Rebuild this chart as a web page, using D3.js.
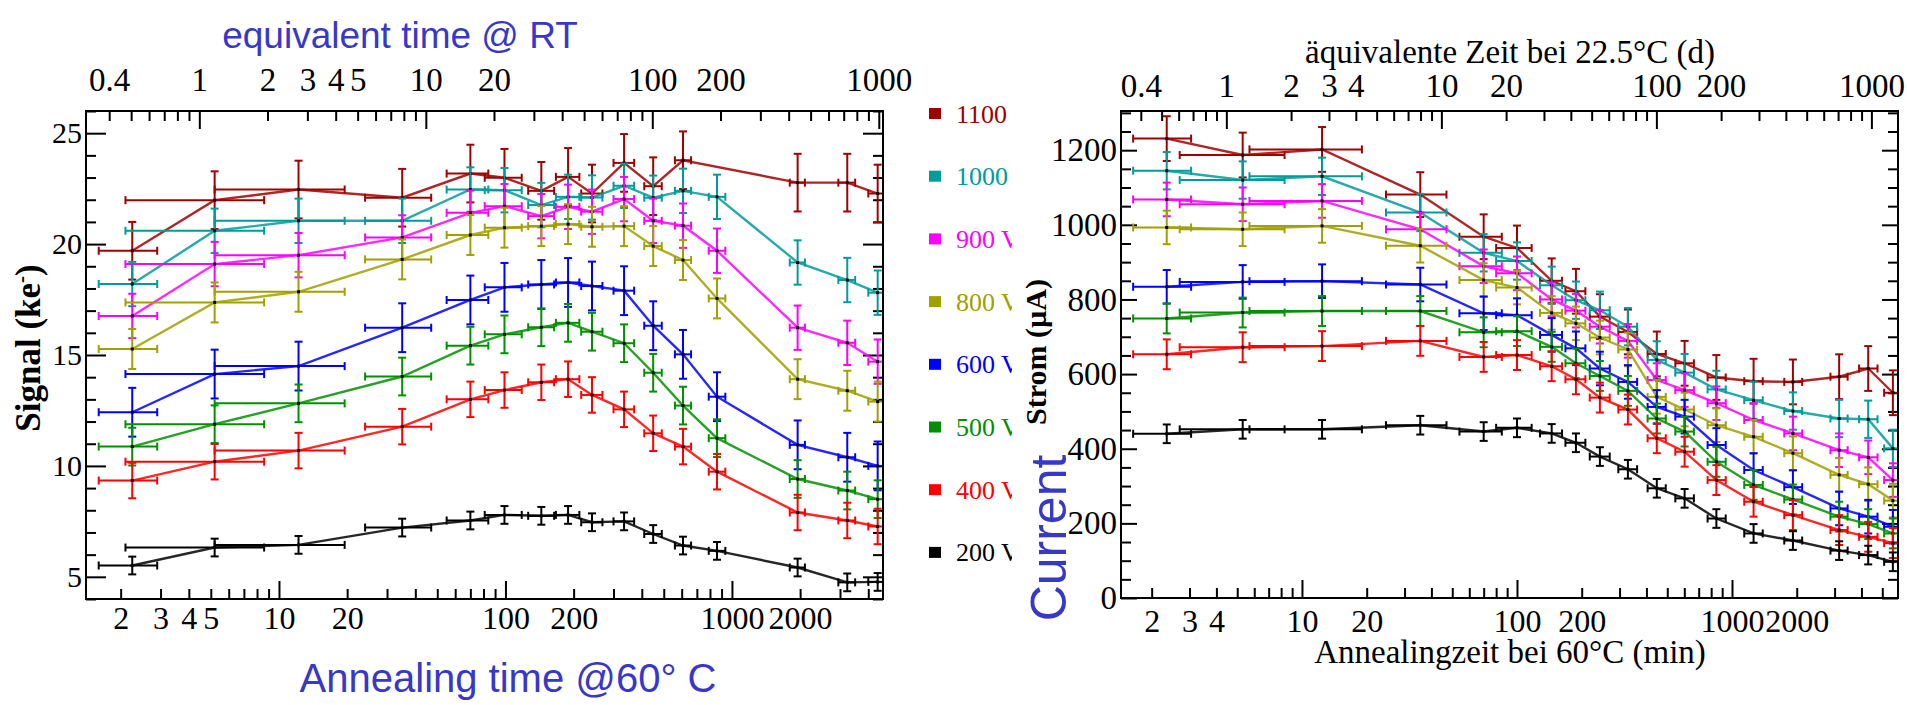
<!DOCTYPE html>
<html>
<head>
<meta charset="utf-8">
<script src="https://cdn.jsdelivr.net/npm/d3@7"></script>
<style>
  body { margin: 0; background: #fff; }
  svg { display: block; }
</style>
</head>
<body>
<div id="chart"></div>
<script>
// series (bias voltage), shared by both panels
const seriesNames = ['1100', '1000', '900 V', '800 V', '600 V', '500 V', '400 V', '200 V'];
const seriesColors = ['#a00000', '#009b9b', '#ff00ff', '#a0a000', '#0000ff', '#009000', '#ff0000', '#000000'];

// left panel: signal (ke-) vs annealing time (min)
const tSignal   = [2.25, 5.2, 12.2, 35, 70, 99, 144, 189, 241, 334, 449, 608, 859, 1950, 3230, 4400];
const tSignalLo = [1.6, 2.1, 5.2, 24, 55, 81, 126, 167, 216, 300, 410, 560, 790, 1800, 2950, 4000];
const tSignalHi = [2.9, 8.6, 19.5, 47, 84, 118, 164, 212, 268, 370, 490, 660, 935, 2100, 3500, 4800];
const signal1100 = [19.70, 21.98, 22.46, 22.09, 23.18, 22.99, 22.40, 23.03, 22.28, 23.66, 22.61, 23.78, null, 22.77, 22.77, 22.28];
const signal1000 = [18.20, 20.60, 21.05, 21.05, 22.46, 22.43, 21.76, 22.13, 22.10, 22.63, 22.09, 22.40, 22.13, 19.17, 18.38, 17.81];
const signal900  = [16.76, 19.10, 19.50, 20.30, 21.41, 21.71, 21.26, 21.68, 21.46, 22.03, 21.05, 20.83, 19.70, 16.23, 15.55, 14.70];
const signal800  = [15.27, 17.37, 17.85, 19.31, 20.41, 20.74, 20.81, 20.90, 20.78, 20.81, 19.91, 19.28, 17.55, 13.91, 13.39, 12.90];
const signal600  = [12.42, 14.14, 14.50, 16.23, 17.48, 18.05, 18.18, 18.27, 18.11, 17.90, 16.32, 15.03, 13.12, 10.95, 10.39, 10.00];
const signal500  = [10.87, 11.88, 12.82, 14.03, 15.42, 15.93, 16.25, 16.45, 16.05, 15.53, 14.20, 12.72, 11.25, 9.41, 8.89, 8.50];
const signal400  = [9.34, 10.19, 10.69, 11.77, 13.00, 13.42, 13.77, 13.91, 13.20, 12.55, 11.47, 10.87, 9.74, 7.90, 7.54, 7.27];
const signal200  = [5.51, 6.32, 6.44, 7.22, 7.54, 7.79, 7.75, 7.79, 7.46, 7.50, 6.93, 6.41, 6.17, 5.42, 4.75, 4.77];
const signalErr  = [1.3, 1.0, 1.0, 0.9, 1.1, 0.85, 0.8, 0.4];

// right panel: current (uA) vs annealing time (min)
const tCurrent   = [2.35, 5.3, 12.4, 35.5, 70, 100, 145, 188, 243, 328, 447, 602, 846, 1260, 1920, 3150, 4300, 5600];
const tCurrentLo = [1.64, 2.7, 5.7, 24.6, 54, 80, 128, 168, 218, 296, 405, 545, 770, 1140, 1750, 2870, 3900, 5100];
const tCurrentHi = [3.05, 8.3, 19, 47, 85, 117, 162, 208, 270, 362, 492, 665, 935, 1390, 2120, 3450, 4750, 6100];
const current1100 = [1231, 1187, 1202, 1081, 968, 938, 850, 822, 754, 713, 654, 629, 591, 581, 579, 593, 615, 550];
const current1000 = [1145, 1120, 1130, 1033, 925, 903, 838, 798, 771, 727, 638, 604, 559, 530, 501, 481, 479, 401];
const current900  = [1068, 1055, 1064, 988, 889, 870, 800, 770, 727, 689, 584, 557, 522, 477, 441, 396, 377, 316];
const current800  = [993, 988, 997, 944, 852, 832, 764, 736, 698, 666, 539, 505, 463, 432, 388, 330, 305, 261];
const current600  = [834, 847, 849, 840, 763, 758, 705, 669, 615, 579, 512, 486, 410, 343, 297, 240, 218, 191];
const current500  = [749, 765, 769, 769, 712, 715, 673, 629, 595, 555, 481, 446, 365, 303, 264, 218, 198, 173];
const current400  = [653, 672, 675, 689, 646, 651, 621, 586, 537, 505, 428, 392, 316, 258, 222, 182, 164, 147];
const current200  = [440, 452, 452, 463, 446, 456, 441, 416, 379, 345, 294, 267, 213, 173, 154, 127, 115, 97];
const currentErr  = [60, 50, 45, 45, 45, 40, 40, 25];

// equivalent time at room temperature: minutes at 60 C per day
const minPerDay = 4.45;

const signalSeries  = [signal1100, signal1000, signal900, signal800, signal600, signal500, signal400, signal200];
const currentSeries = [current1100, current1000, current900, current800, current600, current500, current400, current200];

const W = 1907, H = 705;
const svg = d3.select('#chart').append('svg').attr('width', W).attr('height', H);

function logSteps(domain) {
  const out = [];
  for (let e = -1; e <= 4; e++)
    for (let m = 1; m <= 9; m++) {
      const v = m * Math.pow(10, e);
      if (v >= domain[0] * 0.999 && v <= domain[1] * 1.001) out.push({ v, major: m === 1 });
    }
  return out;
}

function drawPanel(p) {
  const x = d3.scaleLog().domain(p.xDomain).range([p.left, p.right]);
  const xTop = d3.scaleLog().domain(p.xDomain.map(d => d / minPerDay)).range([p.left, p.right]);
  const y = d3.scaleLinear().domain(p.yDomain).range([p.bottom, p.top]);
  const g = svg.append('g');

  const clipId = 'clip-' + p.id;
  svg.append('clipPath').attr('id', clipId)
    .append('rect').attr('x', p.left).attr('y', p.top)
    .attr('width', p.right - p.left).attr('height', p.bottom - p.top);

  const styleAxis = (a, size) => {
    a.select('.domain').remove();
    a.selectAll('line').attr('stroke', '#000').attr('stroke-width', 2);
    a.attr('font-family', '"Liberation Serif", "Times New Roman", serif').attr('font-size', size);
    a.selectAll('text').attr('fill', '#000');
  };

  // x ticks, bottom (minutes) and top (days)
  const bSteps = logSteps(p.xDomain);
  const tSteps = logSteps(xTop.domain());
  [[bSteps, x, d3.axisBottom, p.bottom], [tSteps, xTop, d3.axisTop, p.top]].forEach(([steps, sc, ax, yy]) => {
    g.append('g').attr('transform', `translate(0,${yy})`)
      .call(ax(sc).tickValues(steps.filter(s => !s.major).map(s => s.v)).tickSize(-p.minorLen).tickFormat(''))
      .call(a => styleAxis(a, p.tickFont));
    g.append('g').attr('transform', `translate(0,${yy})`)
      .call(ax(sc).tickValues(steps.filter(s => s.major).map(s => s.v)).tickSize(-p.majorLen).tickFormat(''))
      .call(a => styleAxis(a, p.tickFont));
  });
  g.append('g').attr('transform', `translate(0,${p.bottom})`)
    .call(d3.axisBottom(x).tickValues(p.bottomLabels).tickSize(0).tickPadding(p.bottomPad).tickFormat(d3.format('~g')))
    .call(a => styleAxis(a, p.tickFont));
  g.append('g').attr('transform', `translate(0,${p.top})`)
    .call(d3.axisTop(xTop).tickValues(p.topLabels).tickSize(0).tickPadding(p.topPad).tickFormat(d3.format('~g')))
    .call(a => styleAxis(a, p.topFont));

  // y ticks left and right
  const yMinor = d3.range(p.yDomain[0], p.yDomain[1] + 1e-9, p.yMinorStep).filter(v => Math.abs(v / p.yMajorStep - Math.round(v / p.yMajorStep)) > 1e-6);
  [[d3.axisLeft, p.left], [d3.axisRight, p.right]].forEach(([ax, xx]) => {
    g.append('g').attr('transform', `translate(${xx},0)`)
      .call(ax(y).tickValues(yMinor).tickSize(-p.minorLen).tickFormat(''))
      .call(a => styleAxis(a, p.tickFont));
    g.append('g').attr('transform', `translate(${xx},0)`)
      .call(ax(y).tickValues(p.yLabels).tickSize(-p.yMajorLen).tickFormat(''))
      .call(a => styleAxis(a, p.tickFont));
  });
  g.append('g').attr('transform', `translate(${p.left},0)`)
    .call(d3.axisLeft(y).tickValues(p.yLabels).tickSize(0).tickPadding(4).tickFormat(d3.format('d')))
    .call(a => styleAxis(a, p.yFont));

  // data
  const plot = g.append('g').attr('clip-path', `url(#${clipId})`);
  p.series.forEach((vals, si) => {
    const col = seriesColors[si];
    const pts = vals.map((v, i) => ({ t: p.t[i], lo: p.tLo[i], hi: p.tHi[i], v })).filter(d => d.v != null);
    const sg = plot.append('g').attr('stroke', col).attr('fill', 'none').attr('stroke-width', 2);
    sg.append('path').datum(pts)
      .attr('d', d3.line().x(d => x(d.t)).y(d => y(d.v)))
      .attr('stroke-width', 2.4).attr('stroke-opacity', 0.85);
    const e = p.err[si];
    const bars = sg.selectAll('g.pt').data(pts).join('g').attr('class', 'pt');
    bars.append('line').attr('x1', d => x(d.t)).attr('x2', d => x(d.t))
      .attr('y1', d => y(d.v - e)).attr('y2', d => y(d.v + e));
    bars.append('line').attr('x1', d => x(d.t) - 4).attr('x2', d => x(d.t) + 4)
      .attr('y1', d => y(d.v - e)).attr('y2', d => y(d.v - e));
    bars.append('line').attr('x1', d => x(d.t) - 4).attr('x2', d => x(d.t) + 4)
      .attr('y1', d => y(d.v + e)).attr('y2', d => y(d.v + e));
    bars.append('line').attr('x1', d => x(d.lo)).attr('x2', d => x(d.hi))
      .attr('y1', d => y(d.v)).attr('y2', d => y(d.v));
    bars.append('line').attr('x1', d => x(d.lo)).attr('x2', d => x(d.lo))
      .attr('y1', d => y(d.v) - 4).attr('y2', d => y(d.v) + 4);
    bars.append('line').attr('x1', d => x(d.hi)).attr('x2', d => x(d.hi))
      .attr('y1', d => y(d.v) - 4).attr('y2', d => y(d.v) + 4);
    bars.append('rect').attr('x', d => x(d.t) - 1.5).attr('y', d => y(d.v) - 1.5)
      .attr('width', 3).attr('height', 3).attr('fill', '#000').attr('stroke', 'none');
  });

  // frame
  g.append('rect').attr('x', p.left).attr('y', p.top)
    .attr('width', p.right - p.left).attr('height', p.bottom - p.top)
    .attr('fill', 'none').attr('stroke', '#000').attr('stroke-width', 2);
}

drawPanel({
  id: 'signal', left: 86, right: 883, top: 111, bottom: 599,
  xDomain: [1.406, 4645], yDomain: [4, 26],
  yLabels: [5, 10, 15, 20, 25], yMajorStep: 5, yMinorStep: 1,
  bottomLabels: [2, 3, 4, 5, 10, 20, 100, 200, 1000, 2000],
  topLabels: [0.4, 1, 2, 3, 4, 5, 10, 20, 100, 200, 1000],
  minorLen: 10, majorLen: 18, yMajorLen: 20,
  tickFont: 32, topFont: 33, yFont: 30, bottomPad: 7, topPad: 20,
  t: tSignal, tLo: tSignalLo, tHi: tSignalHi, series: signalSeries, err: signalErr
});

drawPanel({
  id: 'current', left: 1121, right: 1898, top: 111, bottom: 598,
  xDomain: [1.44, 5916], yDomain: [0, 1305],
  yLabels: [0, 200, 400, 600, 800, 1000, 1200], yMajorStep: 200, yMinorStep: 50,
  bottomLabels: [2, 3, 4, 10, 20, 100, 200, 1000, 2000],
  topLabels: [0.4, 1, 2, 3, 4, 10, 20, 100, 200, 1000],
  minorLen: 10, majorLen: 18, yMajorLen: 16,
  tickFont: 32, topFont: 33, yFont: 33, bottomPad: 11, topPad: 14,
  t: tCurrent, tLo: tCurrentLo, tHi: tCurrentHi, series: currentSeries, err: currentErr
});

// legend between panels (the unit letter is cut off as in the original)
svg.append('clipPath').attr('id', 'legend-clip')
  .append('rect').attr('x', 920).attr('y', 90).attr('width', 92).attr('height', 500);
const legend = svg.append('g').attr('clip-path', 'url(#legend-clip)');
seriesNames.forEach((name, i) => {
  const cy = 113.5 + i * 62.7;
  legend.append('rect').attr('x', 929).attr('y', cy - 5.5).attr('width', 12).attr('height', 11)
    .attr('fill', seriesColors[i]);
  legend.append('text').attr('x', 956).attr('y', cy + 9)
    .attr('font-family', '"Liberation Serif", serif').attr('font-size', 26)
    .attr('fill', seriesColors[i]).text(name);
});

// titles
const sans = '"Liberation Sans", Arial, sans-serif';
const serif = '"Liberation Serif", "Times New Roman", serif';
svg.append('text').attr('x', 400).attr('y', 48).attr('text-anchor', 'middle')
  .attr('font-family', sans).attr('font-size', 37).attr('fill', '#3838c8')
  .text('equivalent time @ RT');
svg.append('text').attr('x', 508).attr('y', 692).attr('text-anchor', 'middle')
  .attr('font-family', sans).attr('font-size', 40).attr('fill', '#3838c8')
  .text('Annealing time @60° C');
svg.append('text').attr('x', 1510).attr('y', 63).attr('text-anchor', 'middle')
  .attr('font-family', serif).attr('font-size', 33).attr('fill', '#000')
  .text('äquivalente Zeit bei 22.5°C (d)');
svg.append('text').attr('x', 1510).attr('y', 663).attr('text-anchor', 'middle')
  .attr('font-family', serif).attr('font-size', 33).attr('fill', '#000')
  .text('Annealingzeit bei 60°C (min)');

const sig = svg.append('text').attr('transform', 'translate(40,348) rotate(-90)').attr('text-anchor', 'middle')
  .attr('font-family', serif).attr('font-size', 35).attr('font-weight', 'bold').attr('fill', '#000');
sig.append('tspan').text('Signal (ke');
sig.append('tspan').attr('baseline-shift', 'super').attr('font-size', 21).text('-');
sig.append('tspan').text(')');

svg.append('text').attr('transform', 'translate(1046,352) rotate(-90)').attr('text-anchor', 'middle')
  .attr('font-family', serif).attr('font-size', 30).attr('font-weight', 'bold').attr('fill', '#000')
  .text('Strom (µA)');
svg.append('text').attr('transform', 'translate(1066,538) rotate(-90)').attr('text-anchor', 'middle')
  .attr('font-family', sans).attr('font-size', 50).attr('fill', '#3838c8')
  .text('Current');
</script>
</body>
</html>
